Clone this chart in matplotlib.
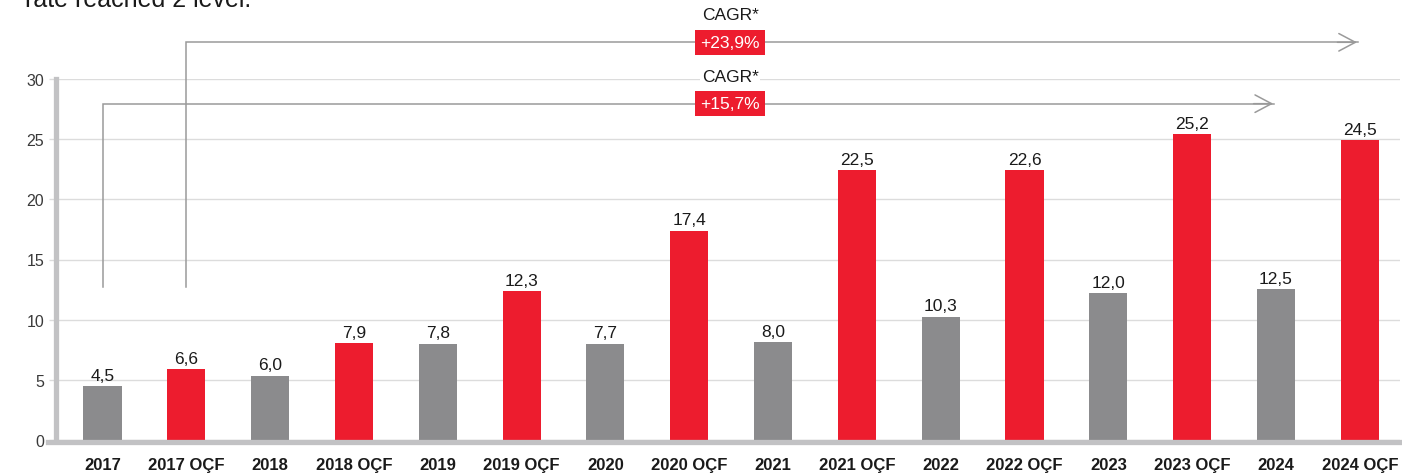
import matplotlib
matplotlib.use("Agg")
import matplotlib.pyplot as plt

# ---------------- data ----------------
categories = ["2017", "2017 OÇF", "2018", "2018 OÇF", "2019", "2019 OÇF",
              "2020", "2020 OÇF", "2021", "2021 OÇF", "2022", "2022 OÇF",
              "2023", "2023 OÇF", "2024", "2024 OÇF"]
# printed value labels
values = [4.5, 6.6, 6.0, 7.9, 7.8, 12.3, 7.7, 17.4, 8.0, 22.5, 10.3, 22.6,
          12.0, 25.2, 12.5, 24.5]
# bar heights as drawn in the reference
bar_heights = [4.45, 5.9, 5.35, 8.05, 8.0, 12.4, 8.0, 17.4, 8.15, 22.45, 10.25,
               22.45, 12.2, 25.4, 12.55, 24.95]
is_ocf = [False, True] * 8
cagr_labels = ["+23,9%", "+15,7%"]
yticks = [0, 5, 10, 15, 20, 25, 30]

RED = "#ED1C2E"
GREY = "#8B8B8D"
AXGREY = "#C2C2C4"
GRID = "#DCDCDC"
LINE = "#9A9A9A"

plt.rcParams["font.family"] = ["Liberation Sans", "DejaVu Sans"]

fig = plt.figure(figsize=(14.02, 4.77), dpi=100)
W, H = 1402, 477
ax = fig.add_axes([56 / W, (H - 441) / H, 1344 / W, 361 / H])

x = list(range(len(categories)))
colors = [RED if o else GREY for o in is_ocf]
ax.bar(x, bar_heights, width=0.455, color=colors, zorder=3)

for xi, h, v in zip(x, bar_heights, values):
    ax.annotate(f"{v:.1f}".replace(".", ","), (xi, h), xytext=(0, 4.5),
                textcoords="offset points", ha="center", va="baseline",
                fontsize=12.5, color="#1a1a1a", zorder=4)

ax.set_xlim(-0.555, 15.48)
ax.set_ylim(0, 30)
ax.set_yticks(yticks)
ax.set_yticklabels([str(t) for t in yticks])
ax.set_xticks(x)
ax.set_xticklabels(categories, fontsize=12, fontweight="bold", color="#1a1a1a")
ax.tick_params(axis="x", length=0, pad=12.5)
ax.tick_params(axis="y", length=5, width=1, color=GRID, pad=3.5,
               labelsize=11.5, labelcolor="#3a3a3a")
ax.yaxis.grid(True, color=GRID, lw=1, zorder=0)
ax.set_axisbelow(True)

for s in ["top", "right", "bottom"]:
    ax.spines[s].set_visible(False)
ax.spines["left"].set_color(AXGREY)
ax.spines["left"].set_linewidth(3.8)
ax.spines["left"].set_bounds(0, 30)
ax.axhline(-0.2, xmin=-0.006, xmax=1, color=AXGREY, lw=3.8, clip_on=False, zorder=5)

# ---------------- CAGR arrows ----------------
arrows = [
    # (start x, end x, level, cagr text y)
    (1, 15, 33.05, 35.4),
    (0, 14, 27.95, 30.2),
]
for (x0, x1, lvl, ty), lab in zip(arrows, cagr_labels):
    ax.plot([x0, x0, x1 - 0.02], [12.7, lvl, lvl], color=LINE, lw=1.1,
            clip_on=False, zorder=2, solid_joinstyle="miter")
    ax.annotate("", xy=(x1, lvl), xytext=(x1 - 0.3, lvl),
                arrowprops=dict(arrowstyle="->,head_length=0.85,head_width=0.45",
                                color=LINE, lw=1.1, mutation_scale=14),
                annotation_clip=False, zorder=2)
    ax.text(7.49, lvl, lab, ha="center", va="center", color="white",
            fontsize=12.5, zorder=6, clip_on=False,
            bbox=dict(boxstyle="square,pad=0.3", fc=RED, ec="none"))
    ax.text(7.49, ty, "CAGR*", ha="center", va="center", color="#1a1a1a",
            fontsize=12.5, zorder=6, clip_on=False,
            bbox=dict(boxstyle="square,pad=0.1", fc="white", ec="none"))

# partially visible heading at the very top (cut off in the reference too)
fig.text(25 / W, (H - 7) / H, "rate reached 2 level.", fontsize=18,
         color="#1a1a1a", ha="left", va="baseline")

fig.savefig("out.png", dpi=100)
